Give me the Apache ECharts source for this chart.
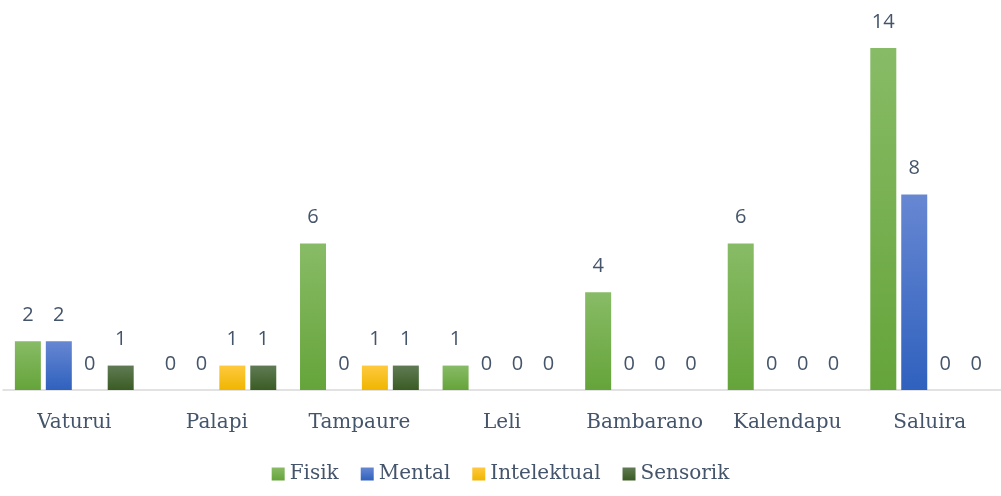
<!DOCTYPE html>
<html>
<head>
<meta charset="utf-8">
<script src="https://cdn.jsdelivr.net/npm/echarts@6/dist/echarts.min.js"></script>
<style>
  html, body { margin: 0; padding: 0; background: #fff; }
  #chart { width: 1001px; height: 496px; }
</style>
</head>
<body>
<div id="chart"></div>
<script>
// Village names along the x axis
const categories = ['Vaturui', 'Palapi', 'Tampaure', 'Leli', 'Bambarano', 'Kalendapu', 'Saluira'];

// Counts per disability type for each village
const fisik       = [2, 0, 6, 1, 4, 6, 14];
const mental      = [2, 0, 0, 0, 0, 0, 8];
const intelektual = [0, 1, 1, 0, 0, 0, 0];
const sensorik    = [1, 1, 1, 0, 0, 0, 0];

const seriesNames = ['Fisik', 'Mental', 'Intelektual', 'Sensorik'];
const seriesData = [fisik, mental, intelektual, sensorik];

// Top/bottom colours of each bar's vertical gradient
const gradients = [
  ['#88bb66', '#65a43a'],
  ['#6787d2', '#2f61be'],
  ['#ffc93e', '#efb600'],
  ['#607b54', '#3a5c23']
];

const textColor = '#44546a';

function grad(c) {
  return new echarts.graphic.LinearGradient(0, 0, 0, 1, [
    { offset: 0, color: c[0] },
    { offset: 1, color: c[1] }
  ]);
}

const chart = echarts.init(document.getElementById('chart'), null, { renderer: 'canvas' });

chart.setOption({
  animation: false,
  backgroundColor: '#ffffff',
  grid: { left: 3, right: -2, top: 48, bottom: 106, containLabel: false },
  legend: {
    bottom: 7,
    left: 'center',
    itemWidth: 13,
    itemHeight: 13,
    itemGap: 22,
    icon: 'rect',
    textStyle: { color: textColor, fontFamily: 'DejaVu Serif', fontSize: 20 },
    data: seriesNames
  },
  xAxis: {
    type: 'category',
    data: categories,
    axisLine: { lineStyle: { color: '#d9d9d9', width: 1.5 } },
    axisTick: { show: false },
    axisLabel: { color: textColor, fontFamily: 'DejaVu Serif', fontSize: 20, margin: 23, interval: 0 }
  },
  yAxis: {
    type: 'value',
    min: 0,
    max: 14,
    show: false,
    splitLine: { show: false }
  },
  series: seriesData.map((d, i) => ({
    name: seriesNames[i],
    type: 'bar',
    data: d,
    barWidth: 26,
    barGap: '19%',
    itemStyle: { color: grad(gradients[i]) },
    label: {
      show: true,
      position: 'top',
      distance: 16,
      color: textColor,
      fontFamily: 'Open Sans',
      fontSize: 20
    }
  }))
});
</script>
</body>
</html>
